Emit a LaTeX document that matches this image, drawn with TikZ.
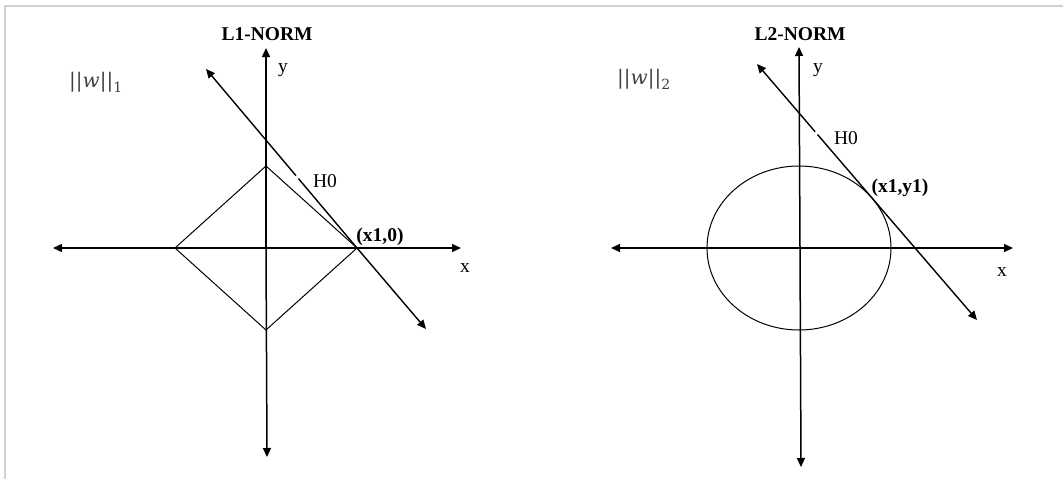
\documentclass[tikz,border=0pt]{standalone}
\usepackage{fontspec}
\setmainfont{Liberation Serif}
\newfontfamily\normfont{DejaVu Serif}
\usetikzlibrary{arrows.meta,calc}
\newcommand{\normtext}[1]{||\textit{w}||\raisebox{-5pt}{\fontsize{14}{14}\selectfont #1}}
\begin{document}
\begin{tikzpicture}[x=1pt,y=-1pt,
  axis/.style={line width=1.5pt,-{Triangle[length=9pt,width=8pt]}},
  hline/.style={line width=1.4pt,-{Triangle[length=9pt,width=8pt]}},
  shapeline/.style={line width=1pt},
  lbl/.style={inner sep=0pt,font=\fontsize{19.5}{23}\selectfont},
  blbl/.style={inner sep=0pt,font=\fontsize{19.5}{23}\selectfont\bfseries},
  normlbl/.style={inner sep=0pt,anchor=west,text=black!75,font=\normfont\fontsize{20}{24}\selectfont},
  frame/.style={line width=1.5pt,draw=black!18}]
\useasboundingbox (0,0) rectangle (1063,479);
\draw[frame] (5,479) -- (5,6) -- (1063,6);
% ---------- left panel ----------
\coordinate (o1) at (266,248);
\coordinate (xl1) at (53,248);
\coordinate (xr1) at (461,248);
\coordinate (yt1) at (266,48);
\coordinate (yb1) at (267,457);
\coordinate (dT1) at (266,166);
\coordinate (dL1) at (175,248);
\coordinate (dR1) at (357,248);
\coordinate (dB1) at (266,330);
\coordinate (h1s) at (357,248);
\coordinate (h1a) at (206,69);
\coordinate (h1b) at (426,329);
\draw[axis] (o1) -- (xl1);
\draw[axis] (o1) -- (xr1);
\draw[axis] (o1) -- (yt1);
\draw[axis] (o1) -- (yb1);
\draw[shapeline] (dT1) -- (dR1) -- (dB1) -- (dL1) -- cycle;
\draw[hline] (h1s) -- (h1a);
\draw[hline] (h1s) -- (h1b);
\draw[white,line width=2.5pt] ($(h1a)!0.41!(h1b)$) -- ($(h1a)!0.42!(h1b)$);
\node[blbl] (t1) at (267,34) {L1-NORM};
\node[normlbl] (n1) at (69,82) {\normtext{1}};
\node[lbl] (ylab1) at (283,70) {y};
\node[lbl] (xlab1) at (465,268) {x};
\node[lbl] (H01) at (325,181) {H0};
\node[blbl] (p1) at (380,237) {(x1,0)};
% ---------- right panel ----------
\coordinate (o2) at (800,248);
\coordinate (xl2) at (611,248);
\coordinate (xr2) at (1013,248);
\coordinate (yt2) at (799,47);
\coordinate (yb2) at (801,467);
\coordinate (h2a) at (757,64);
\coordinate (h2b) at (977,320);
\coordinate (tp2) at (872,198);
\draw[axis] (o2) -- (xl2);
\draw[axis] (o2) -- (xr2);
\draw[axis] (o2) -- (yt2);
\draw[axis] (o2) -- (yb2);
\draw[shapeline] (799,248) ellipse [x radius=92, y radius=82];
\draw[hline] (tp2) -- (h2a);
\draw[hline] (tp2) -- (h2b);
\draw[white,line width=2.5pt] ($(h2a)!0.265!(h2b)$) -- ($(h2a)!0.275!(h2b)$);
\node[blbl] (t2) at (800,34) {L2-NORM};
\node[normlbl] (n2) at (617,79) {\normtext{2}};
\node[lbl] (ylab2) at (818,70) {y};
\node[lbl] (xlab2) at (1002,272) {x};
\node[lbl] (H02) at (846,138) {H0};
\node[blbl] (p2) at (900,188) {(x1,y1)};
\end{tikzpicture}
\end{document}
